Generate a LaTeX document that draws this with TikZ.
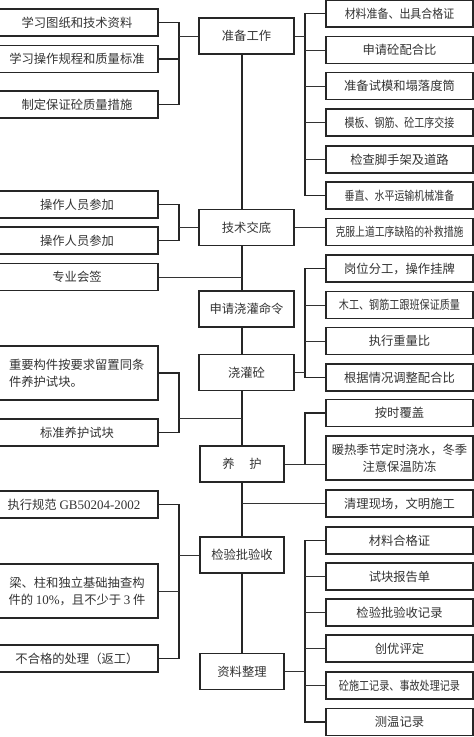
\documentclass[tikz,border=0pt]{standalone}
\usepackage{fontspec}
\setmainfont{Noto Sans CJK SC}
\newfontfamily\latinserif{Liberation Serif}
\usetikzlibrary{calc}
\tikzset{
  bx/.style={draw=black!85, line width=1.1pt, fill=white, inner sep=0pt, text=black!80,
    font=\fontsize{12.3}{17}\selectfont, align=center},
  rbox/.style={bx, minimum width=147pt, minimum height=27pt},
  lbox/.style={bx, minimum width=162pt, minimum height=27pt},
  cbox/.style={bx, minimum width=95pt, minimum height=36pt},
  nbox/.style={bx, minimum width=84pt, minimum height=36pt},
  br/.style={draw=black!85, line width=1.6pt},
  conn/.style={draw=black!80, line width=0.9pt},
  spine/.style={draw=black!85, line width=1.7pt}
}
\newcommand{\sq}[2]{\scalebox{#1}[1]{#2}}
\begin{document}
\begin{tikzpicture}[x=1pt,y=-1pt]
\useasboundingbox (0,0) rectangle (474,737);
\fill[white] (0,0) rectangle (474,737);
\coordinate (xL) at (179,0);
\coordinate (xR) at (305,0);
\coordinate (sx) at (242,0);

% center column
\node[cbox] (c1) at (246.5,36) {准备工作};
\node[cbox] (c2) at (246.5,227.5) {技术交底};
\node[cbox] (c3) at (246.5,309) {申请浇灌命令};
\node[cbox] (c4) at (246.5,372.5) {浇灌砼};
\node[nbox] (c5) at (242,464) {养\hspace{1.2em}护};
\node[nbox] (c6) at (242,555) {检验批验收};
\node[nbox] (c7) at (242,671.5) {资料整理};

% left column
\node[lbox] (l1) at (77,22.5) {学习图纸和技术资料};
\node[lbox] (l2) at (77,59) {学习操作规程和质量标准};
\node[lbox] (l3) at (77,104.5) {制定保证砼质量措施};
\node[lbox] (l4) at (77,204.5) {操作人员参加};
\node[lbox] (l5) at (77,240.5) {操作人员参加};
\node[lbox] (l6) at (77,277) {专业会签};
\node[lbox, minimum height=54pt, align=left] (l7) at (77,373) {\hspace*{8pt}重要构件按要求留置同条\\\hspace*{8pt}件养护试块。\hspace*{70pt}};
\node[lbox] (l8) at (77,432.5) {标准养护试块};
\node[lbox] (l9) at (77,504.5) {\hspace*{-6pt}执行规范 {\latinserif\fontsize{13}{17}\selectfont GB50204-2002}};
\node[lbox, minimum height=54pt] (l10) at (77,591) {梁、柱和独立基础抽查构\\件的 {\latinserif\fontsize{13}{17}\selectfont 10\%}，且不少于 {\latinserif\fontsize{13}{17}\selectfont 3} 件};
\node[lbox] (l11) at (77,658.5) {不合格的处理（返工）};

% right column
\node[rbox] (r1) at (399.5,13.5) {\sq{0.89}{材料准备、出具合格证}};
\node[rbox] (r2) at (399.5,50) {申请砼配合比};
\node[rbox] (r3) at (399.5,86) {准备试模和塌落度筒};
\node[rbox] (r4) at (399.5,122.5) {\sq{0.81}{模板、钢筋、砼工序交接}};
\node[rbox] (r5) at (399.5,159.5) {检查脚手架及道路};
\node[rbox] (r6) at (399.5,195.5) {\sq{0.81}{垂直、水平运输机械准备}};
\node[rbox] (r7) at (399.5,232) {\sq{0.8}{克服上道工序缺陷的补救措施}};
\node[rbox] (r8) at (399.5,268.5) {岗位分工，操作挂牌};
\node[rbox] (r9) at (399.5,305) {\sq{0.82}{木工、钢筋工跟班保证质量}};
\node[rbox] (r10) at (399.5,341) {执行重量比};
\node[rbox] (r11) at (399.5,377.5) {根据情况调整配合比};
\node[rbox] (r12) at (399.5,413) {按时覆盖};
\node[rbox, minimum height=44pt] (r13) at (399.5,458) {暖热季节定时浇水，冬季\\注意保温防冻};
\node[rbox] (r14) at (399.5,503.5) {清理现场，文明施工};
\node[rbox] (r15) at (399.5,540.5) {材料合格证};
\node[rbox] (r16) at (399.5,576.5) {试块报告单};
\node[rbox] (r17) at (399.5,612.5) {检验批验收记录};
\node[rbox] (r18) at (399.5,648.5) {创优评定};
\node[rbox] (r19) at (399.5,685.5) {\sq{0.82}{砼施工记录、事故处理记录}};
\node[rbox] (r20) at (399.5,722) {测温记录};

% spine
\draw[spine] (c1.south -| sx) -- (c2.north -| sx);
\draw[spine] (c2.south -| sx) -- (c3.north -| sx);
\draw[spine] (c3.south -| sx) -- (c4.north -| sx);
\draw[spine] (c4.south -| sx) -- (c5.north -| sx);
\draw[spine] (c5.south -| sx) -- (c6.north -| sx);
\draw[spine] (c6.south -| sx) -- (c7.north -| sx);

% left bracket 1
\draw[br] (l1.east) -- (l1.east -| xL) -- (l3.east -| xL) -- (l3.east);
\draw[br] (l2.east) -- (l2.east -| xL);
\draw[conn] (c1.west -| xL) -- (c1.west);
% right bracket 1
\draw[br] (r1.west) -- (r1.west -| xR) -- (r6.west -| xR) -- (r6.west);
\foreach \n in {r2,r3,r4,r5} \draw[conn] (\n.west -| xR) -- (\n.west);
\draw[conn] (c1.east) -- (c1.east -| xR);

% technical briefing
\draw[br] (l4.east) -- (l4.east -| xL) -- (l5.east -| xL) -- (l5.east);
\draw[conn] (c2.west -| xL) -- (c2.west);
\draw[conn] (c2.east) -- (c2.east -| r7.west);
\draw[conn] (l6.east) -- (l6.east -| sx);

% right bracket 2
\draw[br] (r8.west) -- (r8.west -| xR) -- (r11.west -| xR) -- (r11.west);
\draw[conn] (r9.west -| xR) -- (r9.west);
\draw[conn] (r10.west -| xR) -- (r10.west);
\draw[conn] (c4.east) -- (c4.east -| xR);

% left bracket 2
\coordinate (m45) at ($(c4.south)!0.5!(c5.north)$);
\draw[br] (l7.east) -- (l7.east -| xL) -- (l8.east -| xL) -- (l8.east);
\draw[conn] (m45 -| xL) -- (m45 -| sx);

% right bracket 3
\draw[br] (r12.west) -- (r12.west -| xR) -- (c5.east -| xR);
\draw[conn] (c5.east) -- (c5.east -| r13.west);
\draw[conn] (r14.west -| sx) -- (r14.west);

% left bracket 3
\draw[br] (l9.east) -- (l9.east -| xL) -- (l11.east -| xL) -- (l11.east);
\draw[conn] (l10.east) -- (l10.east -| xL);
\draw[conn] (c6.west -| xL) -- (c6.west);

% right bracket 4
\draw[br] (r15.west) -- (r15.west -| xR) -- (r20.west -| xR) -- (r20.west);
\foreach \n in {r16,r17,r18,r19} \draw[conn] (\n.west -| xR) -- (\n.west);
\draw[conn] (c7.east) -- (c7.east -| xR);
\end{tikzpicture}
\end{document}
